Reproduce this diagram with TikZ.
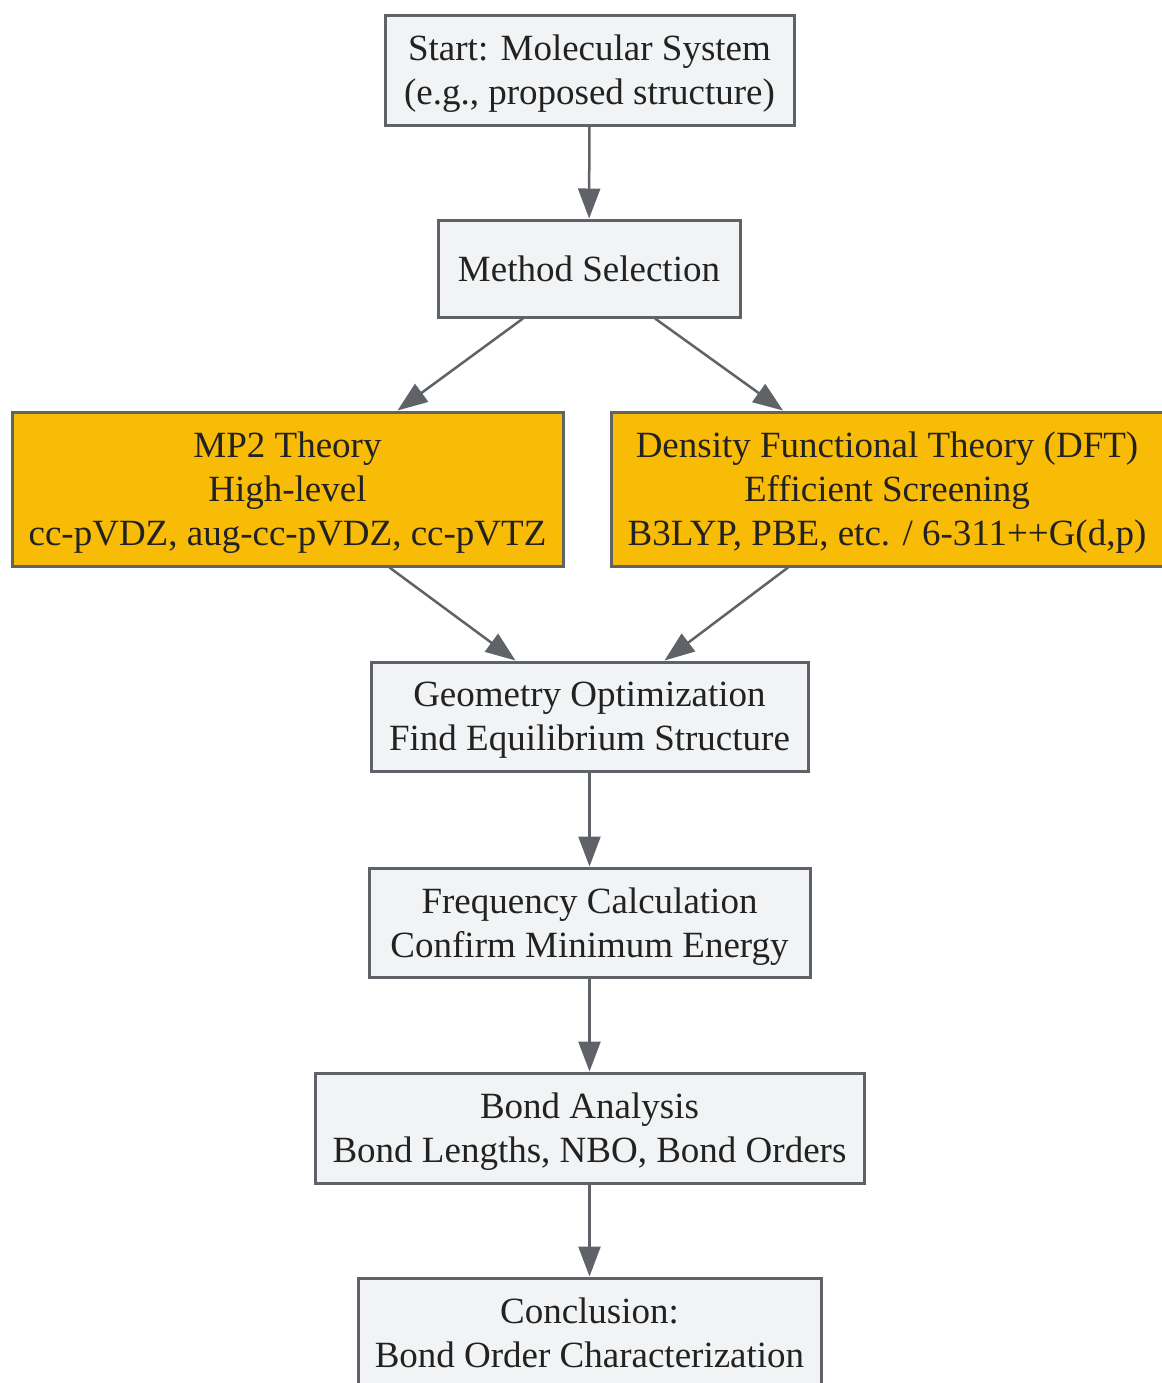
\documentclass[tikz,border=0pt]{standalone}
\usepackage{fontspec}
\setmainfont{Liberation Serif}
\usepackage{tikz}
\usetikzlibrary{arrows.meta}
\definecolor{linegray}{HTML}{5F6368}
\definecolor{boxgray}{HTML}{F1F3F4}
\definecolor{mpyellow}{HTML}{F9BC06}
\definecolor{txtdark}{HTML}{222222}
\def\boxfont{\fontsize{18.5pt}{22pt}\selectfont}
\tikzset{
	stagebox/.style={draw=linegray, fill=boxgray, line width=1.5pt, align=center, inner sep=0pt, text depth=-4pt, text=txtdark, font=\boxfont},
	methodbox/.style={stagebox, fill=mpyellow},
	flow/.style={draw=linegray, line width=1.25pt, -{Triangle[length=15pt, width=11pt]}}
}

\begin{document}
\begin{tikzpicture}[x=0.5pt, y=-0.5pt]
		%%%%% START %%%%%
		
		\useasboundingbox (0, 0) rectangle (1162, 1383);
		
		\node[stagebox, minimum width=204.5pt, minimum height=55pt] (start) at (589.5, 70) {Start: Molecular System\\(e.g., proposed structure)};
		\node[stagebox, minimum width=151pt, minimum height=48.5pt] (select) at (589, 268.5) {Method Selection};
		
		\node[methodbox, minimum width=275.5pt, minimum height=77pt] (mptwo) at (287.5, 489) {MP2 Theory\\High-level\\cc-pVDZ, aug-cc-pVDZ, cc-pVTZ};
		\node[methodbox, minimum width=276pt, minimum height=77pt] (dft) at (887, 489) {Density Functional Theory (DFT)\\Efficient Screening\\B3LYP, PBE, etc. / 6-311++G(d,p)};
		
		\node[stagebox, minimum width=218.5pt, minimum height=54.5pt] (geom) at (589.5, 716.5) {Geometry Optimization\\Find Equilibrium Structure};
		\node[stagebox, minimum width=220.5pt, minimum height=54.5pt] (freq) at (589.5, 922.5) {Frequency Calculation\\Confirm Minimum Energy};
		\node[stagebox, minimum width=274.5pt, minimum height=55pt] (bond) at (589.5, 1128) {Bond Analysis\\Bond Lengths, NBO, Bond Orders};
		\node[stagebox, minimum width=231.5pt, minimum height=55pt] (concl) at (589.5, 1333) {Conclusion:\\Bond Order Characterization};
		
		\draw[flow] (start) -- (select);
		\draw[flow] ([xshift=-33pt]select.south) -- ([xshift=55pt]mptwo.north);
		\draw[flow] ([xshift=33pt]select.south) -- ([xshift=-52pt]dft.north);
		\draw[flow] ([xshift=51pt]mptwo.south) -- ([xshift=-37pt]geom.north);
		\draw[flow] ([xshift=-49.5pt]dft.south) -- ([xshift=37.5pt]geom.north);
		\draw[flow] (geom) -- (freq);
		\draw[flow] (freq) -- (bond);
		\draw[flow] (bond) -- (concl);
		
		%%%%% END %%%%%
	\end{tikzpicture}
\end{document}
